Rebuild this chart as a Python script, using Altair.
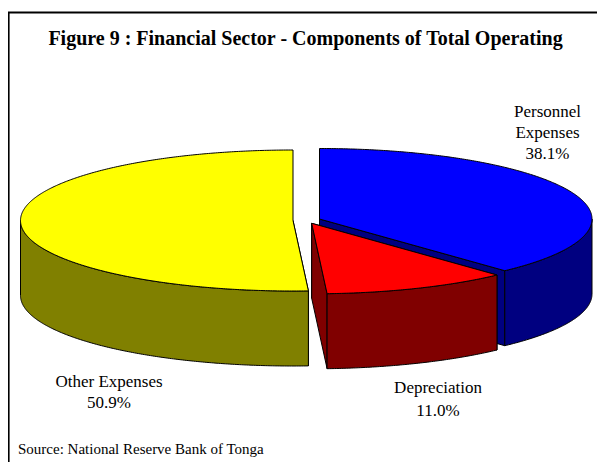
import numpy as np
import pandas as pd
import altair as alt

# ---- data ----
categories = ["Personnel Expenses", "Depreciation", "Other Expenses"]
shares = [38.1, 11.0, 50.9]
top_colors = ["#0000ff", "#ff0000", "#ffff00"]
side_colors = ["#000080", "#800000", "#808000"]
title_text = "Figure 9 : Financial Sector - Components of Total Operating"
source_text = "Source: National Reserve Bank of Tonga"
label_lines = ["Personnel", "Expenses", "38.1%", "Depreciation", "11.0%", "Other Expenses", "50.9%"]
label_x = [547.5, 547.5, 547.5, 438, 438, 109, 109]
label_y = [117, 138, 159, 393, 416, 387, 408]

# ---- pie geometry ----
RX, RY, DEPTH = 272.5, 70.5, 75.0
centres = [(319.5, 219.0), (311.7, 223.3), (293.0, 220.5)]
X0, X1, Y0, Y1 = 8, 597, 8, 462   # pixel window covered by the scales

def pt(c, deg, dy=0.0):
    t = np.radians(deg)
    return c[0] + RX * np.sin(t), c[1] - RY * np.cos(t) + dy

def arc(c, a, b, dy=0.0):
    n = max(2, int(abs(b - a) * 2))
    return [pt(c, d, dy) for d in np.linspace(a, b, n)]

def frame_df(points):
    return pd.DataFrame({"px": [p[0] for p in points], "py": [p[1] for p in points], "i": range(len(points))})

def poly(points):
    return frame_df(list(points) + [points[0]])

xs = alt.Scale(domain=[X0, X1], nice=False, zero=False)
ys = alt.Scale(domain=[Y1, Y0], nice=False, zero=False)

def shape(points, fill):
    return alt.Chart(poly(points)).mark_line(fill=fill, stroke="black", strokeWidth=1, strokeJoin="miter").encode(
        x=alt.X("px:Q", scale=xs, axis=None),
        y=alt.Y("py:Q", scale=ys, axis=None),
        order="i:Q",
    )

# sector angles clockwise from 12 o'clock
edges = np.concatenate([[0], np.cumsum(shares)]) * 3.6
layers = []

# frame: only the top and left rules fall inside the picture
layers.append(alt.Chart(frame_df([(8.6, Y1), (8.6, 12.6), (X1, 12.6)])).mark_line(stroke="black", strokeWidth=2).encode(
    x=alt.X("px:Q", scale=xs, axis=None), y=alt.Y("py:Q", scale=ys, axis=None), order="i:Q"))

def sector(k):
    c, a, b = centres[k], edges[k], edges[k + 1]
    top, side = top_colors[k], side_colors[k]
    out = []
    # flat cut faces seen from the front
    for ang in (a, b):
        if 90 < ang < 180:
            p = pt(c, ang)
            out.append(shape([c, p, (p[0], p[1] + DEPTH), (c[0], c[1] + DEPTH)], side))
    # outer curved wall: only the front half (90..270 degrees)
    lo, hi = max(a, 90), min(b, 270)
    if hi > lo:
        out.append(shape(arc(c, lo, hi) + arc(c, hi, lo, DEPTH), side))
    # top face
    out.append(shape([c] + arc(c, a, b), top))
    return out

# painter's order: Personnel, Other, Depreciation
for k in (0, 2, 1):
    layers.extend(sector(k))

text_df = pd.DataFrame({"t": label_lines, "x": label_x, "y": label_y})
labels = alt.Chart(text_df).mark_text(font="Liberation Serif", fontSize=17, color="black", align="center", baseline="alphabetic").encode(
    x=alt.X("x:Q", scale=xs, axis=None), y=alt.Y("y:Q", scale=ys, axis=None), text="t:N")
title = alt.Chart(pd.DataFrame({"t": [title_text], "x": [305.5], "y": [45]})).mark_text(
    font="Liberation Serif", fontSize=20, fontWeight="bold", color="black", align="center", baseline="alphabetic").encode(
    x=alt.X("x:Q", scale=xs, axis=None), y=alt.Y("y:Q", scale=ys, axis=None), text="t:N")
source = alt.Chart(pd.DataFrame({"t": [source_text], "x": [18], "y": [454]})).mark_text(
    font="Liberation Serif", fontSize=15, color="black", align="left", baseline="alphabetic").encode(
    x=alt.X("x:Q", scale=xs, axis=None), y=alt.Y("y:Q", scale=ys, axis=None), text="t:N")

chart = alt.layer(*layers, labels, title, source).properties(
    width=X1 - X0, height=Y1 - Y0, padding=0, autosize=alt.AutoSizeParams(type="none"),
    background="white",
).configure_view(stroke=None)
chart.save("out.html", embed_options={"renderer": "svg", "actions": False})
